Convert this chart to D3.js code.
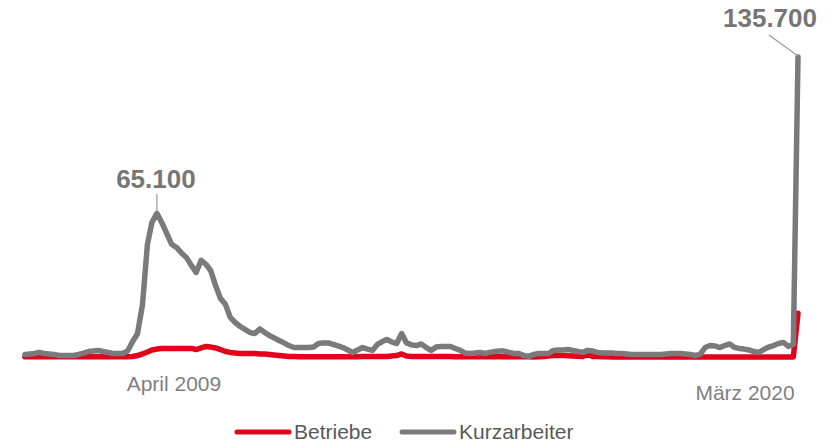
<!DOCTYPE html>
<html>
<head>
<meta charset="utf-8">
<script src="https://cdn.jsdelivr.net/npm/d3@7"></script>
<style>
  html, body { margin: 0; padding: 0; background: #ffffff; }
  svg { display: block; font-family: "Liberation Sans", Arial, sans-serif; }
</style>
</head>
<body>
<svg id="chart" width="835" height="443"></svg>
<script>
// ---- data (monthly, Jan 2007 – März 2020) ----
const startMonth = new Date(2007, 0, 1);
const endMonth = new Date(2020, 2, 1);

const kurzarbeiter = [
  1400,1600,1800,2300,1800,1600,1400,900,900,900,
  900,1400,2000,2700,2900,3200,2700,2300,1800,1800,
  1800,2900,7200,10700,23700,51000,61000,65100,61000,56000,
  51200,49700,47200,45200,41600,38400,43900,42000,39300,32500,
  26700,24000,18100,15800,14000,12700,11300,10800,12900,11300,
  9900,8800,7700,6600,5400,4500,4500,4500,4500,4700,
  6300,6600,6600,5900,5200,4500,3400,2300,3400,4500,
  3800,3200,5900,7200,8100,7000,6300,10800,6600,5700,
  5400,6100,4500,3200,4700,5000,5000,5000,4100,3200,
  2000,1800,2000,2300,1800,2300,2700,2900,2900,2300,
  1800,1800,900,500,1400,1800,1800,1800,3200,3400,
  3400,3600,3200,2700,2300,3200,2900,2300,2000,2000,
  2000,1800,1800,1600,1400,1400,1400,1400,1400,1400,
  1400,1600,1800,1800,1800,1600,1400,900,1400,4500,
  5400,5200,4500,5400,6100,4500,4100,3800,3400,2700,
  2300,3600,4700,5400,6300,6800,5000,5900,135700
];

const betriebe = [
  300,300,300,300,300,300,300,300,300,300,
  300,300,300,300,300,300,300,300,300,300,
  300,300,450,900,1600,2500,3400,3800,4100,4100,
  4100,4100,4100,4100,4100,3600,4300,5000,4700,4300,
  3600,2700,2300,2000,1800,1800,1800,1800,1600,1600,
  1400,1100,900,700,450,450,300,300,300,300,
  300,300,300,300,300,300,300,300,300,450,
  450,450,450,450,450,700,900,1600,700,450,
  400,400,400,400,400,400,400,400,350,350,
  350,350,350,350,350,350,350,350,350,350,
  300,300,300,300,250,300,450,700,900,1000,
  900,800,700,600,500,1500,500,400,300,300,
  200,200,200,200,200,200,200,200,200,200,
  200,200,200,200,200,200,200,200,200,200,
  200,200,200,200,200,200,200,200,200,200,
  200,200,200,200,200,200,200,200,20000
];

const seriesNames = ["Betriebe", "Kurzarbeiter"];
const seriesColors = ["#e2001a", "#7a7a7a"];
const tickLabels = ["April 2009", "März 2020"];
const peakLabels = ["65.100", "135.700"];

// ---- scales ----
const months = d3.timeMonth.range(startMonth, d3.timeMonth.offset(endMonth, 1));
const x = d3.scaleTime().domain([startMonth, endMonth]).range([24.9, 798]);
const y = d3.scaleLinear().domain([0, 135700]).range([357.5, 57]);

const svg = d3.select("#chart");

const line = d3.line()
  .x((d, i) => x(months[i]))
  .y(d => y(d));

// Betriebe (red) first, Kurzarbeiter (grey) on top
svg.append("path")
  .datum(betriebe)
  .attr("fill", "none")
  .attr("stroke", seriesColors[0])
  .attr("stroke-width", 5.5)
  .attr("stroke-linejoin", "round")
  .attr("stroke-linecap", "round")
  .attr("d", line);

svg.append("path")
  .datum(kurzarbeiter)
  .attr("fill", "none")
  .attr("stroke", seriesColors[1])
  .attr("stroke-width", 5.5)
  .attr("stroke-linejoin", "round")
  .attr("stroke-linecap", "round")
  .attr("d", line);

// ---- annotations ----
const peakIdx = kurzarbeiter.indexOf(d3.max(kurzarbeiter.slice(0, 60)));
const lastIdx = kurzarbeiter.length - 1;
const px = x(months[peakIdx]), py = y(kurzarbeiter[peakIdx]);
const lx = x(months[lastIdx]), ly = y(kurzarbeiter[lastIdx]);

svg.append("line")
  .attr("x1", px).attr("x2", px)
  .attr("y1", 194).attr("y2", py - 2)
  .attr("stroke", "#9a9a9a").attr("stroke-width", 1.2);
svg.append("text")
  .attr("x", px - 1).attr("y", 187.5)
  .attr("text-anchor", "middle")
  .attr("font-size", 26).attr("font-weight", "bold")
  .attr("fill", "#767676")
  .text(peakLabels[0]);

svg.append("line")
  .attr("x1", lx - 29).attr("x2", lx)
  .attr("y1", 35).attr("y2", ly - 1)
  .attr("stroke", "#9a9a9a").attr("stroke-width", 1.2);
svg.append("text")
  .attr("x", lx - 28).attr("y", 27)
  .attr("text-anchor", "middle")
  .attr("font-size", 26).attr("font-weight", "bold")
  .attr("fill", "#767676")
  .text(peakLabels[1]);

// ---- x labels ----
svg.append("text")
  .attr("x", px + 17).attr("y", 391)
  .attr("text-anchor", "middle")
  .attr("font-size", 21)
  .attr("fill", "#7f7f7f")
  .text(tickLabels[0]);
svg.append("text")
  .attr("x", lx - 53).attr("y", 400)
  .attr("text-anchor", "middle")
  .attr("font-size", 21)
  .attr("fill", "#7f7f7f")
  .text(tickLabels[1]);

// ---- legend ----
const legendX = [237, 402];
const legend = svg.append("g");
seriesNames.forEach((name, i) => {
  legend.append("line")
    .attr("x1", legendX[i]).attr("x2", legendX[i] + 52)
    .attr("y1", 432).attr("y2", 432)
    .attr("stroke", seriesColors[i])
    .attr("stroke-width", 5)
    .attr("stroke-linecap", "round");
  legend.append("text")
    .attr("x", legendX[i] + 57).attr("y", 439)
    .attr("font-size", 21)
    .attr("fill", "#595959")
    .text(name);
});
</script>
</body>
</html>
